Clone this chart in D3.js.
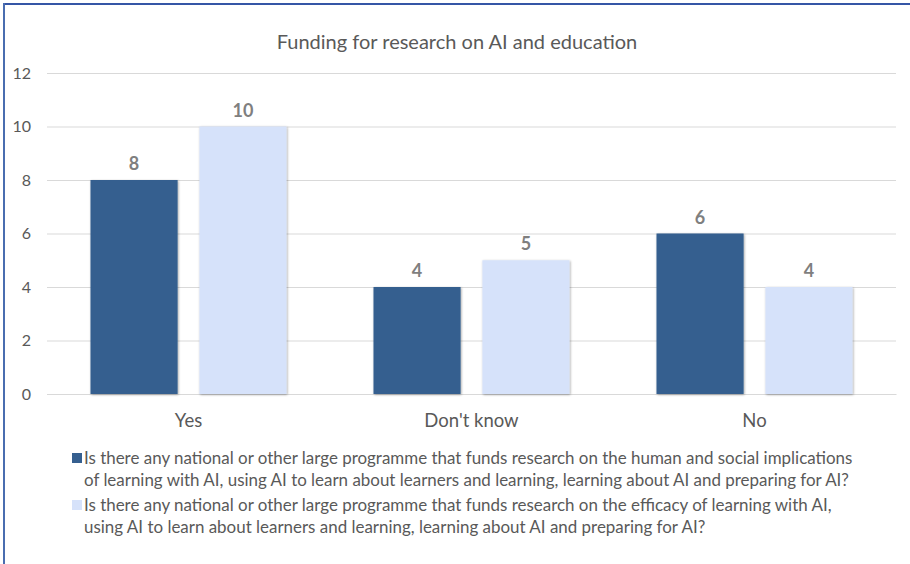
<!DOCTYPE html>
<html>
<head>
<meta charset="utf-8">
<script src="https://cdn.jsdelivr.net/npm/d3@7"></script>
<style>
  html, body { margin: 0; padding: 0; background: #fff; }
  svg { display: block; font-family: Lato, "Open Sans", sans-serif; }
</style>
</head>
<body>
<svg id="chart" width="910" height="564"></svg>
<script>
// Survey answers and the two questions compared
const categories = ["Yes", "Don't know", "No"];
const humanSocial = [8, 4, 6];
const efficacy = [10, 5, 4];
const yTicks = [0, 2, 4, 6, 8, 10, 12];
const seriesNames = [
  ["Is there any national or other large programme that funds research on the human and social implications",
   "of learning with AI, using AI to learn about learners and learning, learning about AI and preparing for AI?"],
  ["Is there any national or other large programme that funds research on the efficacy of learning with AI,",
   "using AI to learn about learners and learning, learning about AI and preparing for AI?"]
];
const seriesColors = ["#355f8f", "#d6e2fa"];
const title = "Funding for research on AI and education";

const svg = d3.select("#chart");
const W = 910, H = 564;

// Frame lines on top and left
svg.append("line").attr("x1", 3).attr("x2", W).attr("y1", 4).attr("y2", 4)
  .attr("stroke", "#3556a6").attr("stroke-width", 2);
svg.append("line").attr("x1", 4).attr("x2", 4).attr("y1", 3).attr("y2", H)
  .attr("stroke", "#4a6db0").attr("stroke-width", 2);

svg.append("text").attr("x", 457).attr("y", 49).attr("text-anchor", "middle")
  .attr("font-size", 20).attr("fill", "#595959").text(title);

const plot = { left: 47, right: 896, top: 73, bottom: 394 };
const y = d3.scaleLinear().domain([0, 12]).range([plot.bottom, plot.top]);
const x = d3.scaleBand().domain(categories).range([plot.left, plot.right]);
const inner = d3.scaleBand().domain([0, 1]).range([0, 196]).paddingInner(0.2);
const groupOffset = (x.bandwidth() - 196) / 2;

// Gridlines and tick labels
const yAxis = d3.axisLeft(y).tickValues(yTicks).tickSize(-(plot.right - plot.left)).tickPadding(16);
const gy = svg.append("g").attr("transform", `translate(${plot.left},0)`).call(yAxis);
gy.select(".domain").remove();
gy.selectAll(".tick line").attr("stroke", "#d9d9d9").attr("stroke-width", 1);
gy.selectAll(".tick text").attr("font-size", 16).attr("fill", "#595959")
  .attr("font-family", "Lato, sans-serif");

// Category axis
const xAxis = d3.axisBottom(x).tickSize(0).tickPadding(20);
const gx = svg.append("g").attr("transform", `translate(0,${plot.bottom})`).call(xAxis);
gx.select(".domain").attr("stroke", "#d9d9d9");
gx.selectAll(".tick text").attr("font-size", 18.5).attr("fill", "#595959")
  .attr("font-family", "Lato, sans-serif");

const defs = svg.append("defs");
const f = defs.append("filter").attr("id", "shadow").attr("x", "-10%").attr("y", "-10%")
  .attr("width", "120%").attr("height", "120%");
f.append("feDropShadow").attr("dx", 0.8).attr("dy", 0.8).attr("stdDeviation", 0.8)
  .attr("flood-color", "#000").attr("flood-opacity", 0.35);

const series = [humanSocial, efficacy];
series.forEach((vals, si) => {
  const g = svg.append("g");
  g.selectAll("rect").data(vals).join("rect")
    .attr("x", (d, i) => x(categories[i]) + groupOffset + inner(si))
    .attr("width", inner.bandwidth())
    .attr("y", d => y(d))
    .attr("height", d => y(0) - y(d))
    .attr("fill", seriesColors[si])
    .attr("filter", "url(#shadow)");
  g.selectAll("text").data(vals).join("text")
    .attr("x", (d, i) => x(categories[i]) + groupOffset + inner(si) + inner.bandwidth() / 2)
    .attr("y", d => y(d) - 10)
    .attr("text-anchor", "middle")
    .attr("font-size", 18).attr("font-weight", "bold").attr("fill", "#7f7f7f")
    .text(d => d);
});

// Legend: long entries wrap onto two lines
const legend = svg.append("g");
const legendBase = [[464, 486], [511, 533]];
const legendTextWidth = 769;
const probe = legend.append("text").attr("font-size", 16).text(seriesNames[0][0]);
const legendFont = 16 * legendTextWidth / probe.node().getComputedTextLength();
probe.remove();
seriesNames.forEach((lines, si) => {
  legend.append("rect").attr("x", 72).attr("y", legendBase[si][0] - 11)
    .attr("width", 10).attr("height", 10).attr("fill", seriesColors[si]);
  lines.forEach((ln, li) => {
    legend.append("text").attr("x", 84).attr("y", legendBase[si][li])
      .attr("font-size", legendFont).attr("fill", "#595959").text(ln);
  });
});
</script>
</body>
</html>
